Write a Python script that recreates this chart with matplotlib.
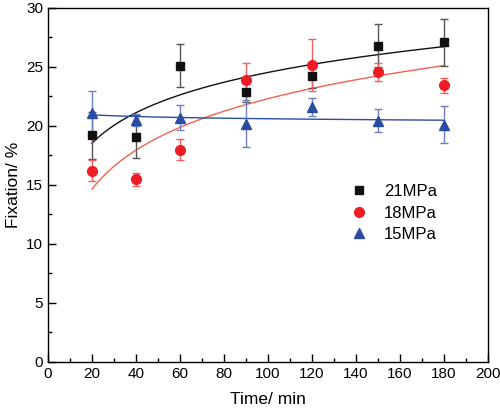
import numpy as np
import matplotlib.pyplot as plt
from matplotlib.ticker import MultipleLocator

plt.rcParams['font.family'] = ['Liberation Sans', 'DejaVu Sans']

# ---------------- DATA ----------------
time_min = [20, 40, 60, 90, 120, 150, 180]

fix_21 = [19.2, 19.1, 25.1, 22.9, 24.2, 26.8, 27.1]
err_21 = [2.0, 1.8, 1.8, 0.9, 1.0, 1.8, 2.0]

fix_18 = [16.2, 15.5, 18.0, 23.9, 25.2, 24.55, 23.45]
err_18 = [0.9, 0.55, 0.9, 1.4, 2.2, 0.75, 0.65]

fix_15 = [21.1, 20.5, 20.7, 20.2, 21.6, 20.45, 20.1]
err_15 = [1.9, 0.5, 1.05, 2.0, 0.75, 1.0, 1.55]

labels = ["21MPa", "18MPa", "15MPa"]

# ---------------- STYLE ----------------
series = [
    (fix_21, err_21, 's', '#111111', '#555555', '#111111', 6),
    (fix_18, err_18, 'o', '#ee1c24', '#f06060', '#f2604f', 7),
    (fix_15, err_15, '^', '#2b4ca3', '#6a80c0', '#2b4ca3', 7.5),
]

fig = plt.figure(figsize=(5.0, 4.16), dpi=100)
ax = fig.add_axes([0.096, 0.13, 0.88, 0.851])

x = np.array(time_min, dtype=float)
xs = np.linspace(20, 180, 200)

for (y, e, mk, col, ecol, lcol, ms), lab in zip(series, labels):
    y = np.array(y)
    # logarithmic trend line fitted from the data
    b, a = np.polyfit(np.log(x), y, 1)
    ax.plot(xs, a + b * np.log(xs), color=lcol, lw=1.0, zorder=2)
    ax.errorbar(x, y, yerr=e, fmt='none', ecolor=ecol, elinewidth=1.0,
                capsize=3, capthick=1.0, zorder=3)
    ax.plot(x, y, linestyle='none', marker=mk, color=col, markersize=ms,
            markeredgecolor=col, label=lab, zorder=4)

ax.set_xlim(0, 200)
ax.set_ylim(0, 30)
ax.xaxis.set_major_locator(MultipleLocator(20))
ax.xaxis.set_minor_locator(MultipleLocator(10))
ax.yaxis.set_major_locator(MultipleLocator(5))
ax.yaxis.set_minor_locator(MultipleLocator(2.5))
ax.tick_params(which='both', direction='in', top=False, right=False,
               labelsize=11, width=1.0)
ax.tick_params(which='major', length=6)
ax.tick_params(which='minor', length=3)
for sp in ax.spines.values():
    sp.set_linewidth(1.0)

ax.set_xlabel("Time/ min", fontsize=12.5, labelpad=8)
ax.set_ylabel("Fixation/ %", fontsize=12.5, labelpad=4)

ax.legend(loc='upper left', bbox_to_anchor=(0.65, 0.545), frameon=False,
          fontsize=12, handletextpad=0.9, labelspacing=0.4,
          handlelength=1.2)

fig.savefig("out.png", dpi=100)
